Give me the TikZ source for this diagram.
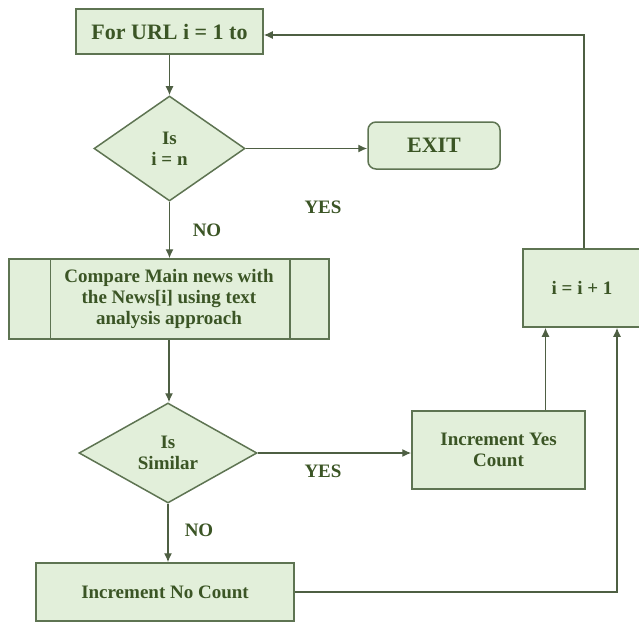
\documentclass[tikz,border=0pt]{standalone}
\usepackage{fontspec}
\setmainfont{Liberation Serif}
\usetikzlibrary{shapes.geometric,arrows.meta}
\definecolor{boxfill}{HTML}{E2EFDA}
\definecolor{boxline}{HTML}{5E7452}
\definecolor{boxtext}{HTML}{3B5525}
\definecolor{flowline}{HTML}{4E5F43}

\begin{document}
\begin{tikzpicture}[x=1pt, y=-1pt,
  box/.style={shape=rectangle, fill=boxfill, draw=boxline, line width=1.5pt, text=boxtext, font=\bfseries\fontsize{19}{21}\selectfont, align=center, inner sep=0pt},
  decision/.style={box, shape=diamond},
  flow/.style={draw=flowline, line width=1.4pt, -{Latex[length=9pt,width=8pt]}},
  tag/.style={text=boxtext, font=\bfseries\fontsize{19}{21}\selectfont}]

\useasboundingbox (0,0) rectangle (639,623);

\node[name=start, box, minimum width=187pt, minimum height=45pt, font=\bfseries\fontsize{22}{24}\selectfont] at (169.5,31.5) {For URL i = 1 to};

\node[name=chk1, decision, minimum width=151pt, minimum height=105pt] at (169.5,148.5) {Is\\i = n};

\node[name=exit, box, rounded corners=8pt, minimum width=132pt, minimum height=47pt, font=\bfseries\fontsize{22}{24}\selectfont] at (434,145.5) {EXIT};

\node[name=cmp, box, minimum width=320pt, minimum height=80pt] at (169,299) {Compare Main news with\\the News[i] using text\\analysis approach};
\draw[boxline, line width=1.5pt] ([xshift=42pt]cmp.north west) -- ([xshift=42pt]cmp.south west);
\draw[boxline, line width=1.5pt] ([xshift=-40pt]cmp.north east) -- ([xshift=-40pt]cmp.south east);

\node[name=inc, box, minimum width=118pt, minimum height=78pt] at (582,288) {i = i + 1};

\node[name=chk2, decision, minimum width=178pt, minimum height=100pt] at (168,453) {Is\\Similar};

\node[name=yescnt, box, minimum width=173pt, minimum height=78pt] at (498.5,450) {Increment Yes\\Count};

\node[name=nocnt, box, minimum width=258pt, minimum height=58pt] at (165,592) {Increment No Count};

\node[name=yes1, tag] at (323,207) {YES};
\node[name=no1, tag] at (207,230) {NO};
\node[name=yes2, tag] at (323,471) {YES};
\node[name=no2, tag] at (199,530) {NO};

\draw[flow] (start.south) -- (chk1.north);
\draw[flow] (chk1.east) -- (chk1.east -| exit.west);
\draw[flow] (chk1.south) -- (chk1.south |- cmp.north);
\draw[flow] (cmp.south) -- (cmp.south |- chk2.north);
\draw[flow] (chk2.east) -- (chk2.east -| yescnt.west);
\draw[flow] (chk2.south) -- (chk2.south |- nocnt.north);
\draw[flow] ([xshift=47pt]yescnt.north) -- ([xshift=47pt]yescnt.north |- inc.south);
\draw[flow] (nocnt.east) -| ([xshift=35pt]inc.south);
\draw[flow] ([xshift=2pt]inc.north) |- ([yshift=-3.5pt]start.east);

\end{tikzpicture}
\end{document}
